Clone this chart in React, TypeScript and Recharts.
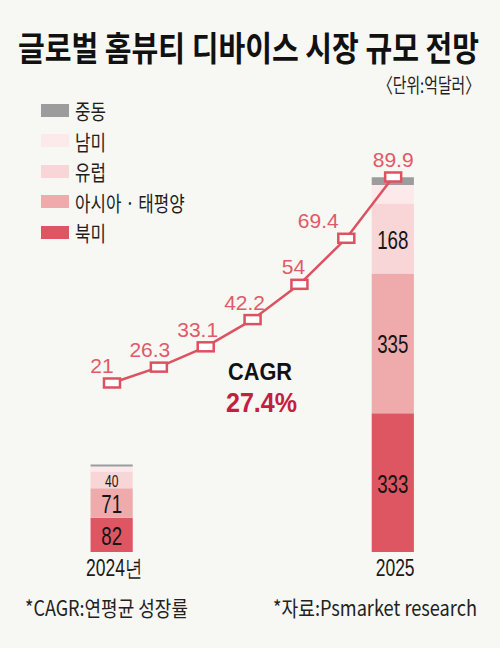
import React from 'react';
import { ComposedChart, Bar, Line, XAxis, YAxis, LabelList, Legend } from 'recharts';

// bar categories and their slot on the shared numeric x axis
const years = ['2024년', '2025'];
const barSlots = [0, 6];

// regional market size per year
const northAmerica = [82, 333];
const asiaPacific = [71, 335];
const europe = [40, 168];
const latinAmerica = [12, 44];
const middleEast = [5, 19];

// market size trend line (억달러)
const trendValues = [21, 26.3, 33.1, 42.2, 54, 69.4, 89.9];

const KR = "'Noto Sans CJK KR', 'Noto Sans', sans-serif";
const NUM = "'Liberation Sans', Arial, sans-serif";
const RED = '#dd5160';

const regions = [
  { key: 'northAmerica', name: '북미', color: '#de5662', values: northAmerica, showLabel: true },
  { key: 'asiaPacific', name: '아시아 · 태평양', color: '#efabac', values: asiaPacific, showLabel: true },
  { key: 'europe', name: '유럽', color: '#f8d5d6', values: europe, showLabel: true },
  { key: 'latinAmerica', name: '남미', color: '#fce9ea', values: latinAmerica, showLabel: false },
  { key: 'middleEast', name: '중동', color: '#9c9c9c', values: middleEast, showLabel: false },
];

const barData = years.map((year, i) => {
  const row: any = { x: barSlots[i], year };
  regions.forEach((r) => (row[r.key] = r.values[i]));
  return row;
});

const trendData = trendValues.map((v, i) => ({ x: i, total: v }));

// small horizontal nudge for the trend labels so they clear the line
const trendLabelDx = [-10, -9, -8, -8, -6, -28, 0];

const BarValue = (props: any) => {
  const { x, y, width, height, value } = props;
  // thin segments get a smaller number so it stays inside
  const size = Math.min(26, Math.abs(height));
  return (
    <text
      transform={`translate(${x + width / 2},${y + height / 2 + 1}) scale(0.72,1)`}
      textAnchor="middle"
      dominantBaseline="central"
      fontSize={size}
      fontFamily={NUM}
      fill="#151515"
    >
      {value}
    </text>
  );
};

const TrendLabel = (props: any) => {
  const { x, y, value, index } = props;
  return (
    <text
      x={x + trendLabelDx[index]}
      y={y - 10}
      textAnchor="middle"
      fontSize={21}
      fontFamily={NUM}
      fill="#e05a68"
    >
      {value}
    </text>
  );
};

const TrendDot = (props: any) => {
  const { cx, cy } = props;
  return <rect x={cx - 8} y={cy - 4.5} width={16} height={9} fill="#fff" stroke={RED} strokeWidth={2.5} />;
};

const YearTick = (props: any) => {
  const { x, y, payload } = props;
  const label = years[barSlots.indexOf(payload.value)];
  return (
    <text
      transform={`translate(${x + 2},${y + 16}) scale(0.76,1)`}
      textAnchor="middle"
      fontSize={23}
      fontFamily={NUM}
      fill="#1a1a1a"
    >
      {label}
    </text>
  );
};

const LegendBox = () => (
  <div>
    {[...regions].reverse().map((r) => (
      <div key={r.key} style={{ display: 'flex', alignItems: 'center', height: 30.5 }}>
        <span style={{ width: 28, height: 13, background: r.color, display: 'inline-block' }} />
        <span
          style={{
            fontFamily: KR,
            fontSize: 21,
            color: '#1e1e1e',
            marginLeft: 6,
            display: 'inline-block',
            transform: 'scaleX(0.8)',
            transformOrigin: 'left center',
            whiteSpace: 'nowrap',
          }}
        >
          {r.name}
        </span>
      </div>
    ))}
  </div>
);

export default function App() {
  return (
    <div style={{ position: 'relative', width: 500, height: 648, background: '#f7f7f3', overflow: 'hidden' }}>
      <style>{'body{margin:0}'}</style>
      <ComposedChart
        width={500}
        height={648}
        data={barData}
        margin={{ top: 60, right: 0, left: 0, bottom: 66 }}
      >
        <XAxis
          type="number"
          dataKey="x"
          domain={[-2.39, 8.28]}
          allowDataOverflow
          ticks={barSlots}
          axisLine={false}
          tickLine={false}
          height={30}
          tick={<YearTick />}
        />
        <YAxis yAxisId="bar" hide domain={[0, 1180]} />
        <YAxis yAxisId="line" hide domain={[-35.53, 129.03]} allowDataOverflow />
        <Legend
          layout="vertical"
          align="center"
          verticalAlign="middle"
          content={() => <LegendBox />}
          wrapperStyle={{ top: 95, left: 41, width: 220, height: 155 }}
        />
        {regions.map((r) => (
          <Bar
            key={r.key}
            yAxisId="bar"
            dataKey={r.key}
            name={r.name}
            stackId="region"
            fill={r.color}
            barSize={90}
            isAnimationActive={false}
          >
            {r.showLabel && <LabelList dataKey={r.key} content={<BarValue />} />}
          </Bar>
        ))}
        <Line
          yAxisId="line"
          data={trendData}
          dataKey="total"
          stroke={RED}
          strokeWidth={2.5}
          dot={<TrendDot />}
          activeDot={false}
          isAnimationActive={false}
          legendType="none"
        >
          <LabelList dataKey="total" content={<TrendLabel />} />
        </Line>
      </ComposedChart>

      <svg
        width={500}
        height={648}
        style={{ position: 'absolute', left: 0, top: 0, pointerEvents: 'none' }}
      >
        <text x={18} y={61} fontFamily={KR} fontWeight={700} fontSize={34} fill="#111" textLength={461} lengthAdjust="spacingAndGlyphs">
          글로벌 홈뷰티 디바이스 시장 규모 전망
        </text>
        <text x={378} y={93} fontFamily={KR} fontSize={20} fill="#222" textLength={102} lengthAdjust="spacingAndGlyphs">
          〈단위:억달러〉
        </text>
        <text x={228} y={380} fontFamily={NUM} fontWeight={700} fontSize={23} fill="#111" textLength={64} lengthAdjust="spacingAndGlyphs">
          CAGR
        </text>
        <text x={226} y={412} fontFamily={NUM} fontWeight={700} fontSize={28} fill="#c3203f" textLength={71} lengthAdjust="spacingAndGlyphs">
          27.4%
        </text>
        <text x={25} y={616} fontFamily={KR} fontSize={21} fill="#222" textLength={163} lengthAdjust="spacingAndGlyphs">
          *CAGR:연평균 성장률
        </text>
        <text x={273} y={616} fontFamily={KR} fontSize={21} fill="#222" textLength={204} lengthAdjust="spacingAndGlyphs">
          *자료:Psmarket research
        </text>
      </svg>
    </div>
  );
}
